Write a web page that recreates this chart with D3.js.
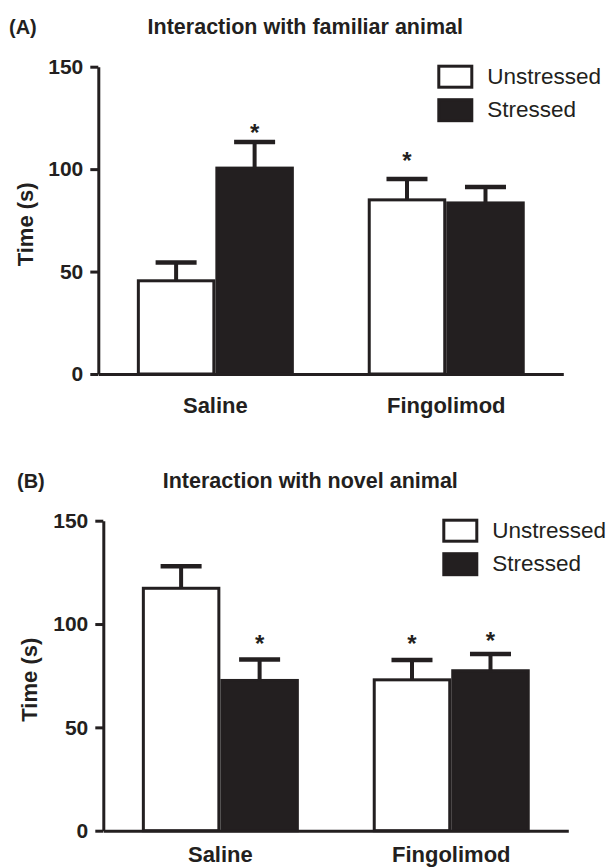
<!DOCTYPE html>
<html>
<head>
<meta charset="utf-8">
<script src="https://cdn.jsdelivr.net/npm/d3@7"></script>
<style>
  body { margin: 0; background: #fff; }
  svg { display: block; font-family: "Liberation Sans", Arial, sans-serif; }
</style>
</head>
<body>
<script>
// Data (order: Saline-Unstressed, Saline-Stressed, Fingolimod-Unstressed, Fingolimod-Stressed)
const groups = ["Saline", "Fingolimod"];
const conditions = ["Unstressed", "Stressed"];
const yTicks = [0, 50, 100, 150];

const panelLabels = ["(A)", "(B)"];
const panelTitles = ["Interaction with familiar animal", "Interaction with novel animal"];

const familiarMeans = [45.5, 100.5, 85, 83.5];
const familiarSem = [8.9, 12.7, 10.2, 7.8];
const familiarStars = [null, 119.6, 106, null]; // y value of the asterisk, null = none

const novelMeans = [117.3, 72.7, 73, 77.4];
const novelSem = [10.6, 10.1, 9.6, 8.1];
const novelStars = [null, 92.3, 92.3, 93.9];

const ink = "#231f20";
const width = 609, height = 868;
const plotWidth = 465;

const svg = d3.select("body").append("svg")
    .attr("width", width)
    .attr("height", height);

// where each panel sits on the page (px)
const layouts = [
    { left: 98.3, top: 66.7, bottom: 374, labelX: 9, ylabX: 33, xlabY: 23.4 },
    { left: 103.3, top: 520.7, bottom: 830.7, labelX: 17, ylabX: 37, xlabY: 15.5 }
];

const panels = [
    { means: familiarMeans, sem: familiarSem, stars: familiarStars },
    { means: novelMeans, sem: novelSem, stars: novelStars }
];

panels.forEach((p, i) => drawPanel(p, layouts[i], panelLabels[i], panelTitles[i]));

function drawPanel(p, L, label, title) {
    const rows = [];
    groups.forEach((g, gi) => conditions.forEach((c, ci) => {
        const k = gi * 2 + ci;
        rows.push({ group: g, cond: c, mean: p.means[k], sem: p.sem[k], star: p.stars[k] });
    }));

    const y = d3.scaleLinear().domain([0, 150]).range([L.bottom - L.top, 0]);
    const x = d3.scaleBand().domain(groups).range([0, plotWidth])
        .paddingInner(0.32).paddingOuter(0.167);
    const xSub = d3.scaleBand().domain(conditions).range([0, x.bandwidth()]);
    const fill = d3.scaleOrdinal().domain(conditions).range(["#fff", ink]);

    const g = svg.append("g").attr("transform", `translate(${L.left},${L.top})`);

    // panel label and title
    svg.append("text")
        .attr("x", L.labelX).attr("y", L.top - 33)
        .attr("font-size", 20).attr("font-weight", "bold").attr("fill", ink)
        .text(label);
    svg.append("text")
        .attr("x", L.left + 207).attr("y", L.top - 33)
        .attr("text-anchor", "middle")
        .attr("font-size", 21.5).attr("font-weight", "bold").attr("fill", ink)
        .text(title);

    // bars
    const sw = 3;
    g.selectAll("rect.bar").data(rows).join("rect")
        .attr("class", "bar")
        .attr("x", d => x(d.group) + xSub(d.cond) + sw / 2)
        .attr("width", xSub.bandwidth() - sw)
        .attr("y", d => y(d.mean))
        .attr("height", d => y(0) - y(d.mean))
        .attr("fill", d => fill(d.cond))
        .attr("stroke", ink)
        .attr("stroke-width", sw);

    // error bars (upper only)
    const cx = d => x(d.group) + xSub(d.cond) + xSub.bandwidth() / 2;
    g.selectAll("line.stem").data(rows).join("line")
        .attr("class", "stem")
        .attr("x1", cx).attr("x2", cx)
        .attr("y1", d => y(d.mean)).attr("y2", d => y(d.mean + d.sem))
        .attr("stroke", ink).attr("stroke-width", 4);
    g.selectAll("line.cap").data(rows).join("line")
        .attr("class", "cap")
        .attr("x1", d => cx(d) - 20.5).attr("x2", d => cx(d) + 20.5)
        .attr("y1", d => y(d.mean + d.sem)).attr("y2", d => y(d.mean + d.sem))
        .attr("stroke", ink).attr("stroke-width", 4.5);

    // asterisks
    g.selectAll("text.star").data(rows.filter(d => d.star != null)).join("text")
        .attr("class", "star")
        .attr("x", cx)
        .attr("y", d => y(d.star) + 12)
        .attr("text-anchor", "middle")
        .attr("font-size", 24).attr("font-weight", "bold").attr("fill", ink)
        .text("*");

    // axes
    const yAxis = g.append("g")
        .call(d3.axisLeft(y).tickValues(yTicks).tickSize(8).tickSizeOuter(0).tickPadding(7));
    const xAxis = g.append("g").attr("transform", `translate(0,${y(0)})`)
        .call(d3.axisBottom(x).tickSize(0).tickSizeOuter(0).tickPadding(L.xlabY));

    [yAxis, xAxis].forEach(a => {
        a.select(".domain").attr("stroke", ink).attr("stroke-width", 3);
        a.selectAll(".tick line").attr("stroke", ink).attr("stroke-width", 3);
        a.selectAll(".tick text")
            .attr("fill", ink).attr("font-family", "Liberation Sans, Arial, sans-serif")
            .attr("font-weight", "bold");
    });
    yAxis.selectAll(".tick text").attr("font-size", 21);
    xAxis.selectAll(".tick text").attr("font-size", 22);

    // y axis title
    svg.append("text")
        .attr("transform", `translate(${L.ylabX},${(L.top + L.bottom) / 2 + 4}) rotate(-90)`)
        .attr("text-anchor", "middle")
        .attr("font-size", 22).attr("font-weight", "bold").attr("fill", ink)
        .text("Time (s)");

    // legend
    const lg = g.append("g").attr("transform", `translate(${x.range()[1] - 126},-2)`);
    const item = lg.selectAll("g").data(conditions).join("g")
        .attr("transform", (d, j) => `translate(0,${j * 33.5})`);
    item.append("rect")
        .attr("x", 1.5).attr("y", 1.5).attr("width", 33).attr("height", 21)
        .attr("fill", d => fill(d)).attr("stroke", ink).attr("stroke-width", 3);
    item.append("text")
        .attr("x", 50).attr("y", 19)
        .attr("font-size", 22.5).attr("fill", ink)
        .text(d => d);
}
</script>
</body>
</html>
